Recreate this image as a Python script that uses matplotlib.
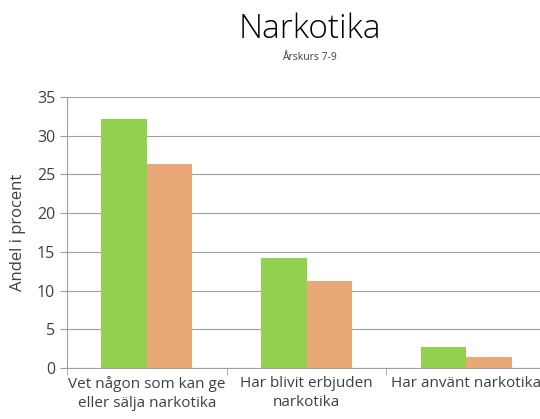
import matplotlib
matplotlib.use("Agg")
import matplotlib.pyplot as plt
import numpy as np

plt.rcParams['font.family'] = ['Open Sans', 'DejaVu Sans']

categories = ["Vet någon som kan ge\neller sälja narkotika", "Har blivit erbjuden\nnarkotika", "Har använt narkotika"]
green_values = [32.2, 14.2, 2.7]
orange_values = [26.3, 11.2, 1.4]

fig = plt.figure(figsize=(5.4, 4.19), dpi=100)
ax = fig.add_axes([67 / 540, 1 - 368 / 419, 479 / 540, 271 / 419])

x = np.arange(len(categories))
w = 0.285
ax.bar(x - w / 2, green_values, width=w, color='#92D050', zorder=3)
ax.bar(x + w / 2, orange_values, width=w, color='#E8A878', zorder=3)

ax.set_xlim(-0.5, 2.5)
ax.set_ylim(0, 35)
ax.set_yticks(range(0, 36, 5))
ax.yaxis.grid(True, color='#A0A0A0', linewidth=0.8, zorder=0)
for s in ['top', 'right']:
    ax.spines[s].set_visible(False)
ax.spines['left'].set_color('#A0A0A0')
ax.spines['bottom'].set_color('#A0A0A0')
ax.tick_params(axis='y', length=5, color='#A0A0A0', labelsize=11.5, labelcolor='#404040')
ax.set_xticks(x)
ax.set_xticklabels(categories, fontsize=11, color='#404040', linespacing=1.35)
ax.set_xticks([-0.5, 0.5, 1.5, 2.5], minor=True)
ax.tick_params(axis='x', which='major', length=0, pad=6)
ax.tick_params(axis='x', which='minor', length=5, color='#A0A0A0')
ax.set_ylabel("Andel i procent", fontsize=12, color='#404040', labelpad=8)

fig.text(0.573, 0.93, "Narkotika", fontsize=24, fontweight='light', ha='center', va='center', color='black')
fig.text(0.573, 0.863, "Årskurs 7-9", fontsize=7.5, ha='center', va='center', color='#404040')

fig.savefig("out.png", dpi=100)
